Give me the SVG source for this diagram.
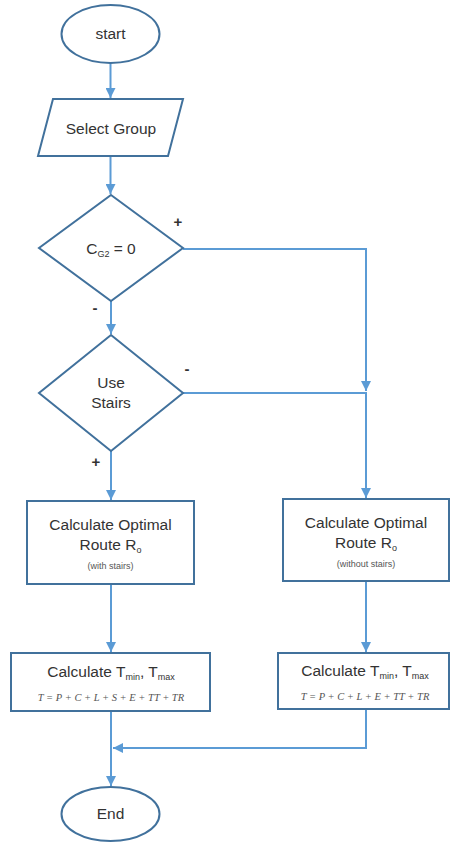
<svg xmlns="http://www.w3.org/2000/svg" width="450" height="843" viewBox="0 0 450 843">
<defs>
<style>
.shape{fill:#fff;stroke:#41719C;stroke-width:2}
.conn{fill:none;stroke:#5B9BD5;stroke-width:2}
.t{font-family:"Liberation Sans",Arial,sans-serif;font-size:15.5px;fill:#333;text-anchor:middle}
.s{font-family:"Liberation Sans",Arial,sans-serif;font-size:9px;fill:#555;text-anchor:middle}
.f{font-family:"Liberation Serif","Times New Roman",serif;font-size:10.5px;font-style:italic;fill:#555;text-anchor:middle}
.sign{font-family:"Liberation Sans",Arial,sans-serif;font-size:15px;font-weight:bold;fill:#333;text-anchor:middle}
.sub{font-size:9px}
</style>
<marker id="arr" viewBox="0 0 10 10" refX="10" refY="5" markerWidth="5" markerHeight="5" orient="auto" markerUnits="strokeWidth">
<path d="M0,0 L10,5 L0,10 z" fill="#5B9BD5"/>
</marker>
</defs>
<rect width="450" height="843" fill="#fff"/>
<g id="connectors">
<path class="conn" d="M110.5,63 V98" marker-end="url(#arr)"/>
<path class="conn" d="M110.5,156 V194" marker-end="url(#arr)"/>
<path class="conn" d="M111,301 V334" marker-end="url(#arr)"/>
<path class="conn" d="M183,249 H366 V391" marker-end="url(#arr)"/>
<path class="conn" d="M183,393 H366 V498" marker-end="url(#arr)"/>
<path class="conn" d="M111,451 V500" marker-end="url(#arr)"/>
<path class="conn" d="M111,584 V652" marker-end="url(#arr)"/>
<path class="conn" d="M366,581 V652" marker-end="url(#arr)"/>
<path class="conn" d="M111,711 V786" marker-end="url(#arr)"/>
<path class="conn" d="M366,709 V748 H113" marker-end="url(#arr)"/>
<text class="sign" x="178" y="227">+</text>
<text class="sign" x="95" y="313">-</text>
<text class="sign" x="187" y="374">-</text>
<text class="sign" x="96" y="467">+</text>
</g>
<g id="start">
<ellipse class="shape" cx="110.5" cy="34" rx="49" ry="29"/>
<text class="t" x="110.5" y="39">start</text>
</g>
<g id="select-group">
<polygon class="shape" points="53,99 183,99 168,156 38,156"/>
<text class="t" x="111" y="134">Select Group</text>
</g>
<g id="cg2">
<polygon class="shape" points="111,195 183,248 111,301 39,248"/>
<text class="t" x="111" y="254">C<tspan class="sub" dy="3">G2</tspan><tspan dy="-3"> = 0</tspan></text>
</g>
<g id="use-stairs">
<polygon class="shape" points="111,335 183,393 111,451 39,393"/>
<text class="t" x="111" y="388">Use</text>
<text class="t" x="111" y="408">Stairs</text>
</g>
<g id="route-with">
<rect class="shape" x="27" y="501" width="167" height="83"/>
<text class="t" x="110.5" y="530">Calculate Optimal</text>
<text class="t" x="110.5" y="550">Route R<tspan class="sub" dy="3">o</tspan></text>
<text class="s" x="110.5" y="569">(with stairs)</text>
</g>
<g id="route-without">
<rect class="shape" x="283" y="499" width="166" height="82"/>
<text class="t" x="366" y="528">Calculate Optimal</text>
<text class="t" x="366" y="548">Route R<tspan class="sub" dy="3">o</tspan></text>
<text class="s" x="366" y="567">(without stairs)</text>
</g>
<g id="time-with">
<rect class="shape" x="11" y="653" width="199" height="58"/>
<text class="t" x="111" y="677">Calculate T<tspan class="sub" dy="3">min</tspan><tspan dy="-3">, T</tspan><tspan class="sub" dy="3">max</tspan></text>
<text class="f" x="111" y="701">T = P + C + L + S + E + TT + TR</text>
</g>
<g id="time-without">
<rect class="shape" x="278" y="653" width="171" height="56"/>
<text class="t" x="365" y="676">Calculate T<tspan class="sub" dy="3">min</tspan><tspan dy="-3">, T</tspan><tspan class="sub" dy="3">max</tspan></text>
<text class="f" x="365" y="700">T = P + C + L + E + TT + TR</text>
</g>
<g id="end">
<ellipse class="shape" cx="110.5" cy="814" rx="49" ry="27"/>
<text class="t" x="110.5" y="819">End</text>
</g>
</svg>
